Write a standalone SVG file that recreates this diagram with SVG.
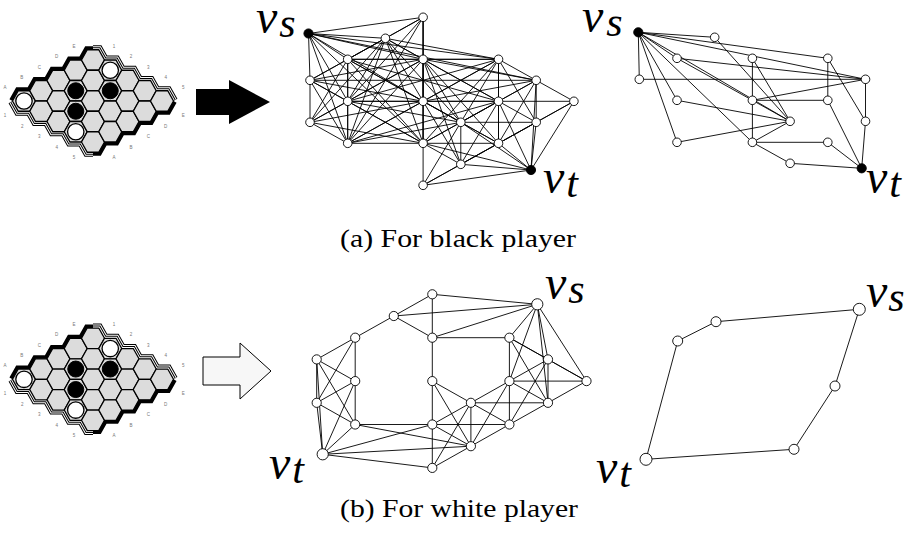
<svg xmlns="http://www.w3.org/2000/svg" xmlns:xlink="http://www.w3.org/1999/xlink" width="914" height="536" viewBox="0 0 914 536">
<style>
.e{stroke:#000;stroke-width:0.9;fill:none}
.n{fill:#fff;stroke:#000;stroke-width:0.9}
.t{fill:#000;stroke:#000;stroke-width:0.9}
.lab{font-family:"Liberation Serif",serif;font-style:italic;fill:#000;font-size:48px}
.sub{font-size:42px}
.cap{font-family:"Liberation Serif",serif;font-size:26px;fill:#000}
.hx{fill:#dcdcdc;stroke:#000;stroke-width:1.3}
.bl{fill:#000;stroke:#000;stroke-width:1}
.wh{fill:#fff;stroke:#000;stroke-width:1.3}
.coord{font-family:"Liberation Sans",sans-serif;font-size:4.5px;fill:#777;text-anchor:middle}
</style>
<defs>
<polygon id="hx" class="hx" points="-11.5,0 -5.75,-10.25 5.75,-10.25 11.5,0 5.75,10.25 -5.75,10.25"/>
<g id="board">
  <!-- black edges: top-left and bottom-right -->
  <path d="M12.5,101 L18.25,90.75 29.75,90.75 35.5,80.5 47,80.5 52.75,70.25 64.25,70.25 70,60 81.5,60 87.25,49.75 93,49.75" fill="none" stroke="#000" stroke-width="7"/>
  <path d="M173.5,101 L167.75,111.25 156.25,111.25 150.5,121.5 139,121.5 133.25,131.75 121.75,131.75 116,142 104.5,142 98.75,152.25 93,152.25" fill="none" stroke="#000" stroke-width="7"/>
  <!-- white edges: top-right and bottom-left, double ruled -->
  <g fill="none">
    <path id="wtr" d="M93,49.75 L98.75,49.75 104.5,60 116,60 121.75,70.25 133.25,70.25 139,80.5 150.5,80.5 156.25,90.75 167.75,90.75 173.5,101"/>
    <path id="wbl" d="M93,152.25 L87.25,152.25 81.5,142 70,142 64.25,131.75 52.75,131.75 47,121.5 35.5,121.5 29.75,111.25 18.25,111.25 12.5,101"/>
  </g>
  <use xlink:href="#wtr" stroke="#000" stroke-width="9"/>
  <use xlink:href="#wtr" stroke="#fff" stroke-width="7"/>
  <use xlink:href="#wtr" stroke="#000" stroke-width="5"/>
  <use xlink:href="#wtr" stroke="#fff" stroke-width="3"/>
  <use xlink:href="#wbl" stroke="#000" stroke-width="9"/>
  <use xlink:href="#wbl" stroke="#fff" stroke-width="7"/>
  <use xlink:href="#wbl" stroke="#000" stroke-width="5"/>
  <use xlink:href="#wbl" stroke="#fff" stroke-width="3"/>
  <!-- cells -->
  <use xlink:href="#hx" x="24" y="101"/>
  <use xlink:href="#hx" x="41.25" y="90.75"/><use xlink:href="#hx" x="41.25" y="111.25"/>
  <use xlink:href="#hx" x="58.5" y="80.5"/><use xlink:href="#hx" x="58.5" y="101"/><use xlink:href="#hx" x="58.5" y="121.5"/>
  <use xlink:href="#hx" x="75.75" y="70.25"/><use xlink:href="#hx" x="75.75" y="90.75"/><use xlink:href="#hx" x="75.75" y="111.25"/><use xlink:href="#hx" x="75.75" y="131.75"/>
  <use xlink:href="#hx" x="93" y="60"/><use xlink:href="#hx" x="93" y="80.5"/><use xlink:href="#hx" x="93" y="101"/><use xlink:href="#hx" x="93" y="121.5"/><use xlink:href="#hx" x="93" y="142"/>
  <use xlink:href="#hx" x="110.25" y="70.25"/><use xlink:href="#hx" x="110.25" y="90.75"/><use xlink:href="#hx" x="110.25" y="111.25"/><use xlink:href="#hx" x="110.25" y="131.75"/>
  <use xlink:href="#hx" x="127.5" y="80.5"/><use xlink:href="#hx" x="127.5" y="101"/><use xlink:href="#hx" x="127.5" y="121.5"/>
  <use xlink:href="#hx" x="144.75" y="90.75"/><use xlink:href="#hx" x="144.75" y="111.25"/>
  <use xlink:href="#hx" x="162" y="101"/>
  <!-- stones -->
  <circle class="wh" cx="24" cy="101" r="8.2"/>
  <circle class="wh" cx="110.25" cy="70.25" r="8.2"/>
  <circle class="wh" cx="75.75" cy="131.75" r="8.2"/>
  <circle class="bl" cx="75.75" cy="90.75" r="8"/>
  <circle class="bl" cx="75.75" cy="111.25" r="8"/>
  <circle class="bl" cx="110.25" cy="90.75" r="8"/>
  <!-- coordinates -->
  <text class="coord" x="5" y="89">A</text><text class="coord" x="21.7" y="79">B</text><text class="coord" x="39.3" y="68.5">C</text><text class="coord" x="56.7" y="57.8">D</text><text class="coord" x="74" y="47.8">E</text>
  <text class="coord" x="114" y="47.8">1</text><text class="coord" x="131" y="57.8">2</text><text class="coord" x="148.3" y="68.5">3</text><text class="coord" x="165.7" y="79">4</text><text class="coord" x="183.3" y="89">5</text>
  <text class="coord" x="183.3" y="116.8">E</text><text class="coord" x="165.7" y="127.5">D</text><text class="coord" x="148.3" y="137.5">C</text><text class="coord" x="131" y="148.5">B</text><text class="coord" x="114" y="159">A</text>
  <text class="coord" x="5" y="116.8">1</text><text class="coord" x="22.3" y="127.5">2</text><text class="coord" x="39.3" y="137.5">3</text><text class="coord" x="56.7" y="148.5">4</text><text class="coord" x="74" y="159">5</text>
</g>
</defs>

<g id="board-a"><use xlink:href="#board"/></g>
<g id="board-b"><use xlink:href="#board" y="278.3"/></g>

<g id="arrow-a"><path d="M196,89 H229 V80 L270,102 L229,124 V115 H196 Z" fill="#000"/></g>
<g id="arrow-b"><path d="M203,357 H240 V343 L271,371 L240,399 V385 H203 Z" fill="#f7f7f7" stroke="#000" stroke-width="1"/></g>

<!-- graph (a) full -->
<g id="ga-edges" class="e">
<line x1="310" y1="80.3" x2="347.7" y2="59.3"/><line x1="310" y1="80.3" x2="347.7" y2="101.3"/><line x1="310" y1="80.3" x2="310" y2="122.3"/>
<line x1="310" y1="122.3" x2="347.7" y2="101.3"/><line x1="310" y1="122.3" x2="347.7" y2="143.3"/>
<line x1="347.7" y1="59.3" x2="385.4" y2="38.3"/><line x1="347.7" y1="59.3" x2="347.7" y2="101.3"/><line x1="347.7" y1="101.3" x2="347.7" y2="143.3"/>
<line x1="385.4" y1="38.3" x2="423.1" y2="17.3"/><line x1="385.4" y1="38.3" x2="423.1" y2="59.3"/><line x1="423.1" y1="17.3" x2="423.1" y2="59.3"/>
<line x1="423.1" y1="59.3" x2="423.1" y2="101.3"/><line x1="423.1" y1="101.3" x2="460.8" y2="122.3"/><line x1="423.1" y1="101.3" x2="423.1" y2="143.3"/>
<line x1="423.1" y1="143.3" x2="460.8" y2="122.3"/><line x1="423.1" y1="143.3" x2="460.8" y2="164.3"/><line x1="423.1" y1="143.3" x2="423.1" y2="185.3"/>
<line x1="423.1" y1="185.3" x2="460.8" y2="164.3"/><line x1="460.8" y1="122.3" x2="498.5" y2="101.3"/><line x1="460.8" y1="122.3" x2="498.5" y2="143.3"/>
<line x1="460.8" y1="122.3" x2="460.8" y2="164.3"/><line x1="460.8" y1="164.3" x2="498.5" y2="143.3"/><line x1="498.5" y1="59.3" x2="536.2" y2="80.3"/>
<line x1="498.5" y1="59.3" x2="498.5" y2="101.3"/><line x1="498.5" y1="101.3" x2="536.2" y2="80.3"/><line x1="498.5" y1="101.3" x2="536.2" y2="122.3"/>
<line x1="498.5" y1="101.3" x2="498.5" y2="143.3"/><line x1="498.5" y1="143.3" x2="536.2" y2="122.3"/><line x1="536.2" y1="80.3" x2="573.9" y2="101.3"/>
<line x1="536.2" y1="80.3" x2="536.2" y2="122.3"/><line x1="536.2" y1="122.3" x2="573.9" y2="101.3"/>
<line x1="308.5" y1="33.5" x2="310" y2="80.3"/><line x1="308.5" y1="33.5" x2="347.7" y2="59.3"/><line x1="308.5" y1="33.5" x2="385.4" y2="38.3"/><line x1="308.5" y1="33.5" x2="423.1" y2="17.3"/>
<line x1="531" y1="170" x2="423.1" y2="185.3"/><line x1="531" y1="170" x2="460.8" y2="164.3"/><line x1="531" y1="170" x2="498.5" y2="143.3"/><line x1="531" y1="170" x2="536.2" y2="122.3"/><line x1="531" y1="170" x2="573.9" y2="101.3"/>
<line x1="423.1" y1="59.3" x2="347.7" y2="101.3"/><line x1="423.1" y1="59.3" x2="347.7" y2="59.3"/><line x1="423.1" y1="59.3" x2="347.7" y2="143.3"/><line x1="423.1" y1="59.3" x2="423.1" y2="143.3"/>
<line x1="347.7" y1="101.3" x2="423.1" y2="101.3"/><line x1="347.7" y1="101.3" x2="385.4" y2="38.3"/><line x1="347.7" y1="101.3" x2="423.1" y2="143.3"/>
<line x1="423.1" y1="101.3" x2="347.7" y2="59.3"/><line x1="423.1" y1="101.3" x2="385.4" y2="38.3"/><line x1="423.1" y1="101.3" x2="347.7" y2="143.3"/>
<line x1="347.7" y1="59.3" x2="347.7" y2="143.3"/><line x1="347.7" y1="59.3" x2="423.1" y2="143.3"/><line x1="385.4" y1="38.3" x2="347.7" y2="143.3"/><line x1="385.4" y1="38.3" x2="423.1" y2="143.3"/><line x1="347.7" y1="143.3" x2="423.1" y2="143.3"/>
<line x1="498.5" y1="59.3" x2="423.1" y2="101.3"/><line x1="498.5" y1="59.3" x2="423.1" y2="59.3"/><line x1="498.5" y1="59.3" x2="460.8" y2="122.3"/><line x1="423.1" y1="101.3" x2="498.5" y2="101.3"/><line x1="498.5" y1="101.3" x2="423.1" y2="59.3"/><line x1="423.1" y1="59.3" x2="460.8" y2="122.3"/>
<line x1="308.5" y1="33.5" x2="347.7" y2="101.3"/><line x1="308.5" y1="33.5" x2="347.7" y2="143.3"/><line x1="308.5" y1="33.5" x2="423.1" y2="59.3"/><line x1="308.5" y1="33.5" x2="423.1" y2="101.3"/><line x1="308.5" y1="33.5" x2="423.1" y2="143.3"/>
<line x1="531" y1="170" x2="423.1" y2="143.3"/><line x1="531" y1="170" x2="460.8" y2="122.3"/><line x1="531" y1="170" x2="498.5" y2="101.3"/><line x1="531" y1="170" x2="536.2" y2="80.3"/>
<line x1="310" y1="80.3" x2="347.7" y2="143.3"/><line x1="310" y1="80.3" x2="385.4" y2="38.3"/><line x1="310" y1="80.3" x2="423.1" y2="59.3"/><line x1="310" y1="80.3" x2="423.1" y2="101.3"/><line x1="310" y1="80.3" x2="423.1" y2="143.3"/>
<line x1="310" y1="122.3" x2="347.7" y2="59.3"/><line x1="310" y1="122.3" x2="423.1" y2="59.3"/><line x1="310" y1="122.3" x2="423.1" y2="101.3"/><line x1="310" y1="122.3" x2="423.1" y2="143.3"/><line x1="310" y1="122.3" x2="385.4" y2="38.3"/>
<line x1="347.7" y1="59.3" x2="423.1" y2="17.3"/><line x1="347.7" y1="59.3" x2="460.8" y2="122.3"/><line x1="347.7" y1="59.3" x2="498.5" y2="59.3"/><line x1="347.7" y1="59.3" x2="498.5" y2="101.3"/>
<line x1="347.7" y1="101.3" x2="423.1" y2="17.3"/><line x1="347.7" y1="101.3" x2="460.8" y2="122.3"/><line x1="347.7" y1="101.3" x2="498.5" y2="59.3"/><line x1="347.7" y1="101.3" x2="498.5" y2="101.3"/>
<line x1="347.7" y1="143.3" x2="423.1" y2="17.3"/><line x1="347.7" y1="143.3" x2="460.8" y2="122.3"/><line x1="347.7" y1="143.3" x2="498.5" y2="59.3"/><line x1="347.7" y1="143.3" x2="498.5" y2="101.3"/>
<line x1="385.4" y1="38.3" x2="460.8" y2="122.3"/><line x1="385.4" y1="38.3" x2="498.5" y2="59.3"/><line x1="385.4" y1="38.3" x2="498.5" y2="101.3"/>
<line x1="423.1" y1="17.3" x2="423.1" y2="101.3"/><line x1="423.1" y1="17.3" x2="423.1" y2="143.3"/>
<line x1="423.1" y1="59.3" x2="498.5" y2="143.3"/><line x1="423.1" y1="59.3" x2="536.2" y2="80.3"/><line x1="423.1" y1="59.3" x2="460.8" y2="164.3"/>
<line x1="423.1" y1="101.3" x2="498.5" y2="143.3"/><line x1="423.1" y1="101.3" x2="536.2" y2="80.3"/><line x1="423.1" y1="101.3" x2="460.8" y2="164.3"/>
<line x1="423.1" y1="143.3" x2="498.5" y2="143.3"/><line x1="423.1" y1="143.3" x2="498.5" y2="59.3"/><line x1="423.1" y1="143.3" x2="498.5" y2="101.3"/>
<line x1="423.1" y1="185.3" x2="460.8" y2="122.3"/><line x1="423.1" y1="185.3" x2="498.5" y2="143.3"/>
<line x1="460.8" y1="122.3" x2="536.2" y2="80.3"/><line x1="460.8" y1="122.3" x2="536.2" y2="122.3"/>
<line x1="460.8" y1="164.3" x2="498.5" y2="101.3"/><line x1="460.8" y1="164.3" x2="536.2" y2="122.3"/>
<line x1="498.5" y1="59.3" x2="498.5" y2="143.3"/><line x1="498.5" y1="59.3" x2="536.2" y2="122.3"/>
<line x1="498.5" y1="101.3" x2="573.9" y2="101.3"/><line x1="498.5" y1="143.3" x2="536.2" y2="80.3"/><line x1="498.5" y1="143.3" x2="573.9" y2="101.3"/>
<line x1="310" y1="80.3" x2="536.2" y2="80.3"/><line x1="308.5" y1="33.5" x2="498.5" y2="59.3"/><line x1="308.5" y1="33.5" x2="536.2" y2="80.3"/>
</g>
<g id="ga-nodes">
<g id="ga-vs"><circle class="t" cx="308.5" cy="33.5" r="4.6"/></g>
<g id="ga-vt"><circle class="t" cx="531" cy="170" r="4.6"/></g>
<g id="ga-f"><circle class="n" cx="310" cy="80.3" r="4.3"/></g>
<g id="ga-l"><circle class="n" cx="310" cy="122.3" r="4.3"/></g>
<g id="ga-c"><circle class="n" cx="347.7" cy="59.3" r="4.3"/></g>
<g id="ga-g"><circle class="n" cx="347.7" cy="101.3" r="4.3"/></g>
<g id="ga-o"><circle class="n" cx="347.7" cy="143.3" r="4.3"/></g>
<g id="ga-b"><circle class="n" cx="385.4" cy="38.3" r="4.3"/></g>
<g id="ga-a"><circle class="n" cx="423.1" cy="17.3" r="4.3"/></g>
<g id="ga-d"><circle class="n" cx="423.1" cy="59.3" r="4.3"/></g>
<g id="ga-h"><circle class="n" cx="423.1" cy="101.3" r="4.3"/></g>
<g id="ga-p"><circle class="n" cx="423.1" cy="143.3" r="4.3"/></g>
<g id="ga-s"><circle class="n" cx="423.1" cy="185.3" r="4.3"/></g>
<g id="ga-m"><circle class="n" cx="460.8" cy="122.3" r="4.3"/></g>
<g id="ga-r"><circle class="n" cx="460.8" cy="164.3" r="4.3"/></g>
<g id="ga-e"><circle class="n" cx="498.5" cy="59.3" r="4.3"/></g>
<g id="ga-j"><circle class="n" cx="498.5" cy="101.3" r="4.3"/></g>
<g id="ga-q"><circle class="n" cx="498.5" cy="143.3" r="4.3"/></g>
<g id="ga-i"><circle class="n" cx="536.2" cy="80.3" r="4.3"/></g>
<g id="ga-n"><circle class="n" cx="536.2" cy="122.3" r="4.3"/></g>
<g id="ga-k"><circle class="n" cx="573.9" cy="101.3" r="4.3"/></g>
</g>

<!-- graph (a) reduced -->
<g id="gb-edges" class="e">
<line x1="638.3" y1="32.3" x2="714.7" y2="37.3"/><line x1="638.3" y1="32.3" x2="827.8" y2="58.3"/><line x1="638.3" y1="32.3" x2="865.5" y2="79.3"/>
<line x1="638.3" y1="32.3" x2="677" y2="58.3"/><line x1="638.3" y1="32.3" x2="639.3" y2="79.3"/><line x1="638.3" y1="32.3" x2="677" y2="100.3"/>
<line x1="638.3" y1="32.3" x2="677" y2="142.3"/><line x1="638.3" y1="32.3" x2="752.4" y2="142.3"/><line x1="638.3" y1="32.3" x2="790.1" y2="121.3"/>
<line x1="639.3" y1="79.3" x2="865.5" y2="79.3"/><line x1="677" y1="58.3" x2="865.5" y2="79.3"/><line x1="677" y1="58.3" x2="752.4" y2="100.3"/>
<line x1="714.7" y1="37.3" x2="790.1" y2="121.3"/><line x1="752.4" y1="58.3" x2="790.1" y2="121.3"/><line x1="752.4" y1="58.3" x2="752.4" y2="142.3"/>
<line x1="752.4" y1="100.3" x2="865.5" y2="79.3"/><line x1="752.4" y1="100.3" x2="827.8" y2="100.3"/><line x1="752.4" y1="100.3" x2="790.1" y2="121.3"/>
<line x1="677" y1="100.3" x2="790.1" y2="121.3"/><line x1="677" y1="142.3" x2="790.1" y2="121.3"/><line x1="752.4" y1="142.3" x2="827.8" y2="142.3"/>
<line x1="752.4" y1="142.3" x2="790.1" y2="163.3"/><line x1="752.4" y1="142.3" x2="790.1" y2="121.3"/><line x1="827.8" y1="58.3" x2="827.8" y2="100.3"/>
<line x1="827.8" y1="58.3" x2="865.5" y2="121.3"/><line x1="865.5" y1="79.3" x2="865.5" y2="121.3"/><line x1="865.5" y1="121.3" x2="861.7" y2="168.3"/>
<line x1="827.8" y1="142.3" x2="861.7" y2="168.3"/><line x1="790.1" y1="163.3" x2="861.7" y2="168.3"/><line x1="827.8" y1="100.3" x2="861.7" y2="168.3"/>
</g>
<g id="gb-nodes">
<g id="gb-vs"><circle class="t" cx="638.3" cy="32.3" r="4.6"/></g>
<g id="gb-vt"><circle class="t" cx="861.7" cy="168.3" r="4.6"/></g>
<g id="gb-f"><circle class="n" cx="639.3" cy="79.3" r="4.3"/></g>
<g id="gb-c"><circle class="n" cx="677" cy="58.3" r="4.3"/></g>
<g id="gb-g"><circle class="n" cx="677" cy="100.3" r="4.3"/></g>
<g id="gb-o"><circle class="n" cx="677" cy="142.3" r="4.3"/></g>
<g id="gb-b"><circle class="n" cx="714.7" cy="37.3" r="4.3"/></g>
<g id="gb-d"><circle class="n" cx="752.4" cy="58.3" r="4.3"/></g>
<g id="gb-h"><circle class="n" cx="752.4" cy="100.3" r="4.3"/></g>
<g id="gb-p"><circle class="n" cx="752.4" cy="142.3" r="4.3"/></g>
<g id="gb-m"><circle class="n" cx="790.1" cy="121.3" r="4.3"/></g>
<g id="gb-r"><circle class="n" cx="790.1" cy="163.3" r="4.3"/></g>
<g id="gb-e"><circle class="n" cx="827.8" cy="58.3" r="4.3"/></g>
<g id="gb-j"><circle class="n" cx="827.8" cy="100.3" r="4.3"/></g>
<g id="gb-q"><circle class="n" cx="827.8" cy="142.3" r="4.3"/></g>
<g id="gb-i"><circle class="n" cx="865.5" cy="79.3" r="4.3"/></g>
<g id="gb-n"><circle class="n" cx="865.5" cy="121.3" r="4.3"/></g>
</g>

<!-- graph (b) full -->
<g id="gc-edges" class="e">
<line x1="316.7" y1="359.4" x2="355.2" y2="337.7"/><line x1="316.7" y1="359.4" x2="355.2" y2="381.1"/><line x1="316.7" y1="359.4" x2="316.7" y2="402.8"/>
<line x1="316.7" y1="402.8" x2="355.2" y2="381.1"/><line x1="316.7" y1="402.8" x2="355.2" y2="424.5"/>
<line x1="355.2" y1="337.7" x2="393.8" y2="316"/><line x1="355.2" y1="337.7" x2="355.2" y2="381.1"/><line x1="355.2" y1="381.1" x2="355.2" y2="424.5"/>
<line x1="393.8" y1="316" x2="432.3" y2="294.3"/><line x1="393.8" y1="316" x2="432.3" y2="337.7"/><line x1="432.3" y1="294.3" x2="432.3" y2="337.7"/>
<line x1="432.3" y1="337.7" x2="432.3" y2="381.1"/><line x1="432.3" y1="381.1" x2="470.9" y2="402.8"/><line x1="432.3" y1="381.1" x2="432.3" y2="424.5"/>
<line x1="432.3" y1="424.5" x2="470.9" y2="402.8"/><line x1="432.3" y1="424.5" x2="470.9" y2="446.2"/><line x1="432.3" y1="424.5" x2="432.3" y2="467.9"/>
<line x1="432.3" y1="467.9" x2="470.9" y2="446.2"/><line x1="470.9" y1="402.8" x2="509.4" y2="381.1"/><line x1="470.9" y1="402.8" x2="509.4" y2="424.5"/>
<line x1="470.9" y1="402.8" x2="470.9" y2="446.2"/><line x1="470.9" y1="446.2" x2="509.4" y2="424.5"/><line x1="509.4" y1="337.7" x2="548" y2="359.4"/>
<line x1="509.4" y1="337.7" x2="509.4" y2="381.1"/><line x1="509.4" y1="381.1" x2="548" y2="359.4"/><line x1="509.4" y1="381.1" x2="548" y2="402.8"/>
<line x1="509.4" y1="381.1" x2="509.4" y2="424.5"/><line x1="509.4" y1="424.5" x2="548" y2="402.8"/><line x1="548" y1="359.4" x2="586.5" y2="381.1"/>
<line x1="548" y1="359.4" x2="548" y2="402.8"/><line x1="548" y1="402.8" x2="586.5" y2="381.1"/>
<line x1="537.3" y1="304.3" x2="432.3" y2="294.3"/><line x1="537.3" y1="304.3" x2="509.4" y2="337.7"/><line x1="537.3" y1="304.3" x2="548" y2="359.4"/><line x1="537.3" y1="304.3" x2="586.5" y2="381.1"/>
<line x1="537.3" y1="304.3" x2="432.3" y2="337.7"/><line x1="537.3" y1="304.3" x2="393.8" y2="316"/><line x1="537.3" y1="304.3" x2="509.4" y2="381.1"/><line x1="537.3" y1="304.3" x2="548" y2="402.8"/>
<line x1="322.7" y1="454.3" x2="316.7" y2="402.8"/><line x1="322.7" y1="454.3" x2="355.2" y2="424.5"/><line x1="322.7" y1="454.3" x2="432.3" y2="467.9"/><line x1="322.7" y1="454.3" x2="316.7" y2="359.4"/>
<line x1="322.7" y1="454.3" x2="432.3" y2="424.5"/><line x1="322.7" y1="454.3" x2="355.2" y2="381.1"/><line x1="322.7" y1="454.3" x2="470.9" y2="446.2"/>
<line x1="432.3" y1="337.7" x2="509.4" y2="337.7"/><line x1="432.3" y1="424.5" x2="355.2" y2="424.5"/>
<line x1="316.7" y1="359.4" x2="355.2" y2="424.5"/><line x1="316.7" y1="402.8" x2="355.2" y2="337.7"/><line x1="355.2" y1="424.5" x2="470.9" y2="446.2"/>
<line x1="432.3" y1="381.1" x2="470.9" y2="446.2"/><line x1="432.3" y1="424.5" x2="509.4" y2="424.5"/><line x1="432.3" y1="467.9" x2="470.9" y2="402.8"/>
<line x1="470.9" y1="402.8" x2="548" y2="402.8"/><line x1="470.9" y1="446.2" x2="509.4" y2="381.1"/><line x1="509.4" y1="337.7" x2="548" y2="402.8"/>
<line x1="509.4" y1="337.7" x2="586.5" y2="381.1"/><line x1="509.4" y1="381.1" x2="586.5" y2="381.1"/><line x1="509.4" y1="424.5" x2="548" y2="359.4"/>
</g>
<g id="gc-nodes">
<g id="gc-vs"><circle class="n" cx="537.3" cy="304.3" r="5.6"/></g>
<g id="gc-vt"><circle class="n" cx="322.7" cy="454.3" r="5.6"/></g>
<g id="gc-f"><circle class="n" cx="316.7" cy="359.4" r="4.6"/></g>
<g id="gc-l"><circle class="n" cx="316.7" cy="402.8" r="4.6"/></g>
<g id="gc-c"><circle class="n" cx="355.2" cy="337.7" r="4.6"/></g>
<g id="gc-g"><circle class="n" cx="355.2" cy="381.1" r="4.6"/></g>
<g id="gc-o"><circle class="n" cx="355.2" cy="424.5" r="4.6"/></g>
<g id="gc-b"><circle class="n" cx="393.8" cy="316" r="4.6"/></g>
<g id="gc-a"><circle class="n" cx="432.3" cy="294.3" r="4.6"/></g>
<g id="gc-d"><circle class="n" cx="432.3" cy="337.7" r="4.6"/></g>
<g id="gc-h"><circle class="n" cx="432.3" cy="381.1" r="4.6"/></g>
<g id="gc-p"><circle class="n" cx="432.3" cy="424.5" r="4.6"/></g>
<g id="gc-s"><circle class="n" cx="432.3" cy="467.9" r="4.6"/></g>
<g id="gc-m"><circle class="n" cx="470.9" cy="402.8" r="4.6"/></g>
<g id="gc-r"><circle class="n" cx="470.9" cy="446.2" r="4.6"/></g>
<g id="gc-e"><circle class="n" cx="509.4" cy="337.7" r="4.6"/></g>
<g id="gc-j"><circle class="n" cx="509.4" cy="381.1" r="4.6"/></g>
<g id="gc-q"><circle class="n" cx="509.4" cy="424.5" r="4.6"/></g>
<g id="gc-i"><circle class="n" cx="548" cy="359.4" r="4.6"/></g>
<g id="gc-n"><circle class="n" cx="548" cy="402.8" r="4.6"/></g>
<g id="gc-k"><circle class="n" cx="586.5" cy="381.1" r="4.6"/></g>
</g>

<!-- graph (b) reduced -->
<g id="gd-edges" class="e">
<line x1="646" y1="459.3" x2="677.7" y2="341"/><line x1="677.7" y1="341" x2="716" y2="321.7"/><line x1="716" y1="321.7" x2="859.3" y2="309.3"/>
<line x1="859.3" y1="309.3" x2="835" y2="386"/><line x1="835" y1="386" x2="794" y2="449.3"/><line x1="794" y1="449.3" x2="646" y2="459.3"/>
</g>
<g id="gd-nodes">
<g id="gd-vs"><circle class="n" cx="859.3" cy="309.3" r="6"/></g>
<g id="gd-vt"><circle class="n" cx="646" cy="459.3" r="6"/></g>
<g id="gd-1"><circle class="n" cx="716" cy="321.7" r="5"/></g>
<g id="gd-2"><circle class="n" cx="677.7" cy="341" r="5"/></g>
<g id="gd-3"><circle class="n" cx="835" cy="386" r="5"/></g>
<g id="gd-4"><circle class="n" cx="794" cy="449.3" r="5"/></g>
</g>

<!-- terminal labels -->
<g id="labels" class="lab">
<text x="256" y="33">v<tspan class="sub" dx="2" dy="4">s</tspan></text>
<text x="543" y="193">v<tspan class="sub" dx="2" dy="4">t</tspan></text>
<text x="582" y="32">v<tspan class="sub" dx="3" dy="4">s</tspan></text>
<text x="866" y="193">v<tspan class="sub" dx="2" dy="4">t</tspan></text>
<text x="545" y="299">v<tspan class="sub" dx="2" dy="4">s</tspan></text>
<text x="269" y="479">v<tspan class="sub" dx="2" dy="4">t</tspan></text>
<text x="866" y="307">v<tspan class="sub" dx="1" dy="4">s</tspan></text>
<text x="596" y="483">v<tspan class="sub" dx="2" dy="4">t</tspan></text>
</g>

<g id="captions">
<text class="cap" x="340" y="247" textLength="236" lengthAdjust="spacingAndGlyphs">(a) For black player</text>
<text class="cap" x="340" y="517" textLength="238" lengthAdjust="spacingAndGlyphs">(b) For white player</text>
</g>
</svg>
